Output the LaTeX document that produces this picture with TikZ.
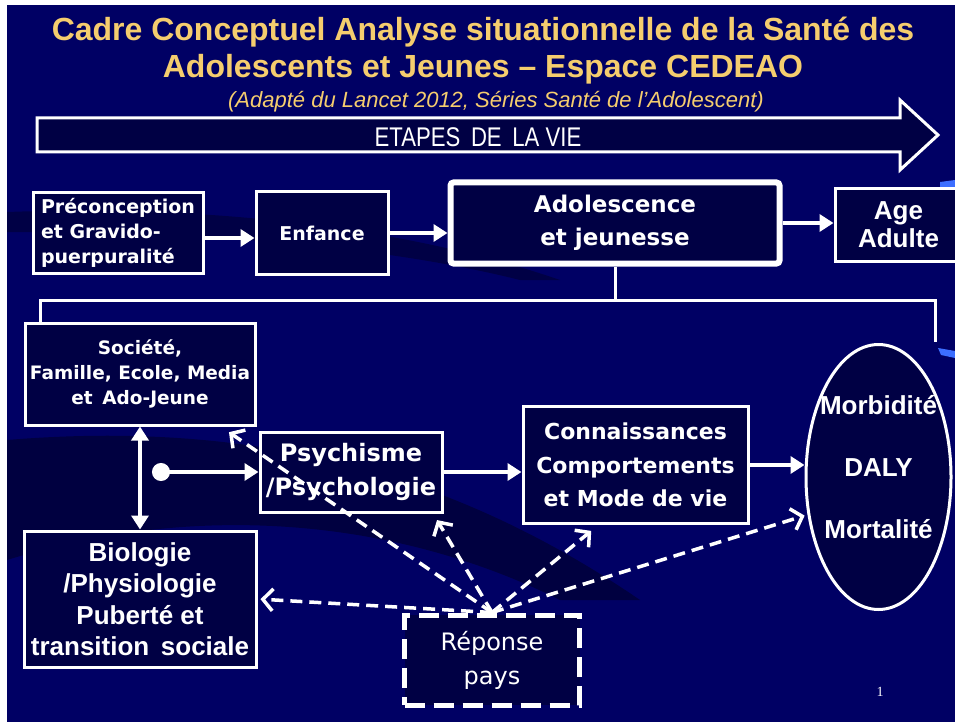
\documentclass[tikz,border=0pt]{standalone}
\usepackage{fontspec}
\setmainfont{Liberation Sans}
\newfontfamily\narrowfont[FakeStretch=0.82]{Liberation Sans}
\newfontfamily\widefont{DejaVu Sans}
\newfontfamily\pagefont{Liberation Serif}
\usepackage{tikz}
\usetikzlibrary{positioning, shapes.geometric, arrows.meta, calc}

\definecolor{slidebg}{RGB}{0,0,100}
\definecolor{bandbg}{RGB}{0,0,40}
\definecolor{boxfill}{RGB}{0,0,68}
\definecolor{titlegold}{RGB}{245,205,110}
\definecolor{streak}{RGB}{60,110,255}

\newcommand{\ovline}[1]{\makebox[70pt]{#1}}

\tikzset{
	stagebox/.style={draw=white, line width=3pt, fill=boxfill, text=white, align=center, inner sep=2pt},
	solidarr/.style={draw=white, line width=4pt, -{Triangle[length=14pt, width=17pt]}},
	dasharr/.style={draw=white, line width=3.5pt, dash pattern=on 12pt off 7pt, shorten >=3pt,
		-{Straight Barb[length=10pt, width=22pt, line width=3.5pt]}},
}

\begin{document}
\begin{tikzpicture}[x=1pt, y=-1pt]
	% Background
	\useasboundingbox (0,0) rectangle (955,722);
	\fill[white] (0,0) rectangle (955,722);
	\fill[slidebg] (7,5) rectangle (955,722);
	\fill[bandbg, opacity=0.6] (7,440) .. controls (250,420) and (450,470) .. (640,600) -- (560,600) .. controls (400,520) and (200,500) .. (7,560) -- cycle;
	\fill[bandbg, opacity=0.5] (7,212) .. controls (200,205) and (400,225) .. (560,280) -- (520,280) .. controls (380,245) and (200,232) .. (7,232) -- cycle;
	\fill[streak] (940,182) -- (955,180) -- (955,187) -- (940,187) -- cycle;
	\fill[streak] (938,348) -- (955,351) -- (955,358) -- (941,355) -- cycle;
	
	% Title
	\node[text=titlegold, align=center, font=\bfseries\fontsize{32}{37}\selectfont] (title) at (483,51)
		{Cadre Conceptuel Analyse situationnelle de la Santé des\\Adolescents et Jeunes – Espace CEDEAO};
	\node[text=titlegold, font=\itshape\fontsize{22}{24}\selectfont] (source) at (496,102)
		{(Adapté du Lancet 2012, Séries Santé de l'Adolescent)};
	
	% Life stages arrow
	\fill[boxfill, draw=white, line width=3pt] (37,118) -- (900,118) -- (900,100) -- (938,135)
		-- (900,170) -- (900,152) -- (37,152) -- cycle;
	\node[text=white, font=\narrowfont\fontsize{27}{29}\selectfont] (etapes) at (478,137) {ETAPES\, DE\, LA VIE};
	
	% Stages
	\node[stagebox, align=left, minimum width=170pt, minimum height=80pt, font=\widefont\bfseries\fontsize{19}{25}\selectfont] (pre) at (118,233)
		{Préconception\\et Gravido-\\puerpuralité};
	\node[stagebox, minimum width=132pt, minimum height=82pt, font=\widefont\bfseries\fontsize{19}{22}\selectfont, right=50pt of pre] (enf)
		{Enfance};
	\node[stagebox, line width=6pt, rounded corners=3pt, minimum width=329pt, minimum height=81pt, font=\widefont\bfseries\fontsize{23}{33}\selectfont, right=58pt of enf, yshift=10pt] (ado)
		{Adolescence\\et jeunesse};
	\node[stagebox, minimum width=127pt, minimum height=73pt, font=\bfseries\fontsize{26}{28}\selectfont, right=51pt of ado, yshift=-2pt] (age)
		{Age\\Adulte};
	
	% Determinants
	\node[stagebox, minimum width=230pt, minimum height=102pt, font=\widefont\bfseries\fontsize{18.5}{25}\selectfont] (soc) at (140,374)
		{Société,\\Famille, Ecole, Media\\et\, Ado-Jeune};
	\node[stagebox, minimum width=232pt, minimum height=136pt, font=\bfseries\fontsize{26}{31.5}\selectfont, below=103pt of soc] (bio)
		{Biologie\\/Physiologie\\Puberté et\\transition\, sociale};
	\node[stagebox, minimum width=182pt, minimum height=80pt, font=\widefont\bfseries\fontsize{24}{34}\selectfont] (psy) at (351,472)
		{Psychisme\\/Psychologie};
	\node[stagebox, minimum width=225pt, minimum height=117pt, font=\widefont\bfseries\fontsize{22}{33.5}\selectfont, right=78pt of psy, yshift=7pt] (con)
		{Connaissances\\Comportements\\et Mode de vie};
	\node[stagebox, ellipse, inner sep=0pt, minimum width=145pt, minimum height=265pt, font=\bfseries\fontsize{26}{28}\selectfont, right=55pt of con, yshift=-12pt] (ell)
		{\ovline{Morbidité}\\[34pt]\ovline{DALY}\\[34pt]\ovline{Mortalité}\\[-16pt]\strut};
	\node[stagebox, line width=5pt, dash pattern=on 20pt off 9pt, minimum width=175pt, minimum height=90pt, font=\widefont\fontsize{24}{34}\selectfont] (rep) at (492,660)
		{Réponse\\pays};
	
	% Stage links
	\draw[solidarr] ([yshift=-5pt]pre.east) -- ([yshift=-5pt]pre.east -| enf.west);
	\draw[solidarr] (enf) -- (enf -| ado.west);
	\draw[solidarr] (ado) -- (ado -| age.west);
	
	% Bracket
	\coordinate (brL) at (40,300);
	\coordinate (brR) at (935,300);
	\coordinate (brE) at (935,342);
	\draw[white, line width=3pt] (ado.south) -- (ado.south |- brL);
	\draw[white, line width=3pt] (soc.north -| brL) -- (brL) -- (brR) -- (brE);
	
	% Relationships
	\coordinate (dot) at (152,472);
	\draw[solidarr, {Triangle[length=14pt, width=17pt]}-{Triangle[length=14pt, width=17pt]}] (soc) -- (bio);
	\draw[solidarr, {Circle[length=18pt]}-{Triangle[length=14pt, width=17pt]}] (dot) -- (psy.west |- dot);
	\draw[solidarr] (psy) -- (psy -| con.west);
	\draw[solidarr] (con) -- (con -| ell.west);
	
	\draw[dasharr] (rep.north) -- ([xshift=-30pt, yshift=-4pt]soc.south east);
	\draw[dasharr] (rep.north) -- ([xshift=-8pt, yshift=-4pt]psy.south east);
	\draw[dasharr] (rep.north) -- ([xshift=-42pt, yshift=-4pt]con.south);
	\draw[dasharr] (rep.north) -- (ell.208);
	\draw[dasharr] (rep.north) -- (bio.east);
	
	% Slide number
	\node[text=white, font=\pagefont\fontsize{14}{16}\selectfont] (num) at (880,692) {1};
\end{tikzpicture}
\end{document}
